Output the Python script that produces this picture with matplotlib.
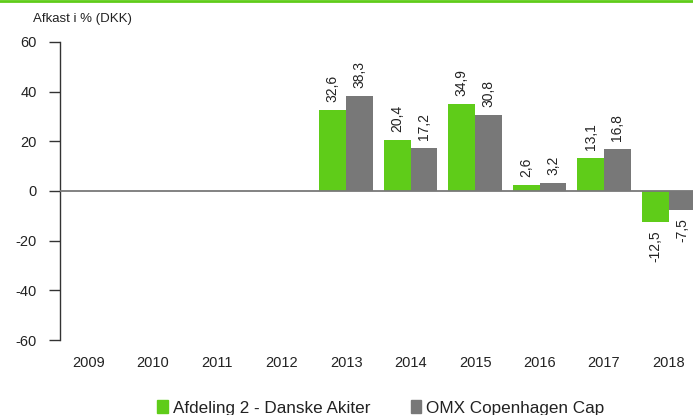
import numpy as np
import matplotlib
matplotlib.use("Agg")
import matplotlib.pyplot as plt
import matplotlib.patches as mpatches
from matplotlib.lines import Line2D

plt.rcParams["font.family"] = ["Liberation Sans", "DejaVu Sans"]

# --- data ---
years = ["2009", "2010", "2011", "2012", "2013", "2014", "2015", "2016", "2017", "2018"]
fund = [np.nan, np.nan, np.nan, np.nan, 32.6, 20.4, 34.9, 2.6, 13.1, -12.5]
index = [np.nan, np.nan, np.nan, np.nan, 38.3, 17.2, 30.8, 3.2, 16.8, -7.5]
series_names = ["Afdeling 2 - Danske Akiter", "OMX Copenhagen Cap"]
y_ticks = [-60, -40, -20, 0, 20, 40, 60]

GREEN = "#5fcc19"
GREY = "#787878"
TXT = "#222222"

W, H = 693, 415
fig = plt.figure(figsize=(W / 100, H / 100), dpi=100)
ax = fig.add_axes([60 / W, (H - 340) / H, 1 - 60 / W, (340 - 42) / H])

x = np.arange(len(years))
bw = 0.415
ax.bar(x - bw / 2, fund, width=bw, color=GREEN, zorder=2)
ax.bar(x + bw / 2, index, width=bw, color=GREY, zorder=2)

# value labels, rotated
def fmt(v):
    return f"{v:.1f}".replace(".", ",")

for xs, vals in ((x - bw / 2, fund), (x + bw / 2, index)):
    for xi, v in zip(xs, vals):
        if np.isnan(v):
            continue
        off = 8 if v >= 0 else -8
        ax.annotate(fmt(v), (xi, v), xytext=(0, off), textcoords="offset pixels",
                    rotation=90, ha="center", va="bottom" if v >= 0 else "top",
                    fontsize=10, color=TXT)

ax.axhline(0, color=GREY, lw=1.3, zorder=3)

ax.set_xlim(-0.44, 9.38)
ax.set_ylim(-60, 60)
ax.set_yticks(y_ticks)
ax.set_yticklabels([str(t) for t in y_ticks], fontsize=10.5, color=TXT)
ax.set_xticks(x)
ax.set_xticklabels(years, fontsize=10.5, color=TXT)
ax.tick_params(axis="x", length=0, pad=11.5)
ax.tick_params(axis="y", length=8, width=1, color="#333333", pad=8.5, direction="out")
for s in ("top", "right", "bottom"):
    ax.spines[s].set_visible(False)
ax.spines["left"].set_color("#333333")
ax.spines["left"].set_linewidth(1)

# title
fig.text(33 / W, 1 - 19 / H, "Afkast i % (DKK)", fontsize=9.5, color=TXT,
         ha="left", va="center")

# green rule at top
fig.add_artist(Line2D([0, 1], [1 - 1 / H, 1 - 1 / H], color=GREEN, lw=2,
                      transform=fig.transFigure))

handles = [mpatches.Patch(color=GREEN), mpatches.Patch(color=GREY)]
fig.legend(handles, series_names, loc="center", bbox_to_anchor=(381 / W, 1 - 408 / H),
           ncol=2, frameon=False, fontsize=12.3, handlelength=0.6, handleheight=0.75,
           handletextpad=0.3, columnspacing=2.4, labelcolor=TXT)

fig.savefig("out.png", dpi=100)
